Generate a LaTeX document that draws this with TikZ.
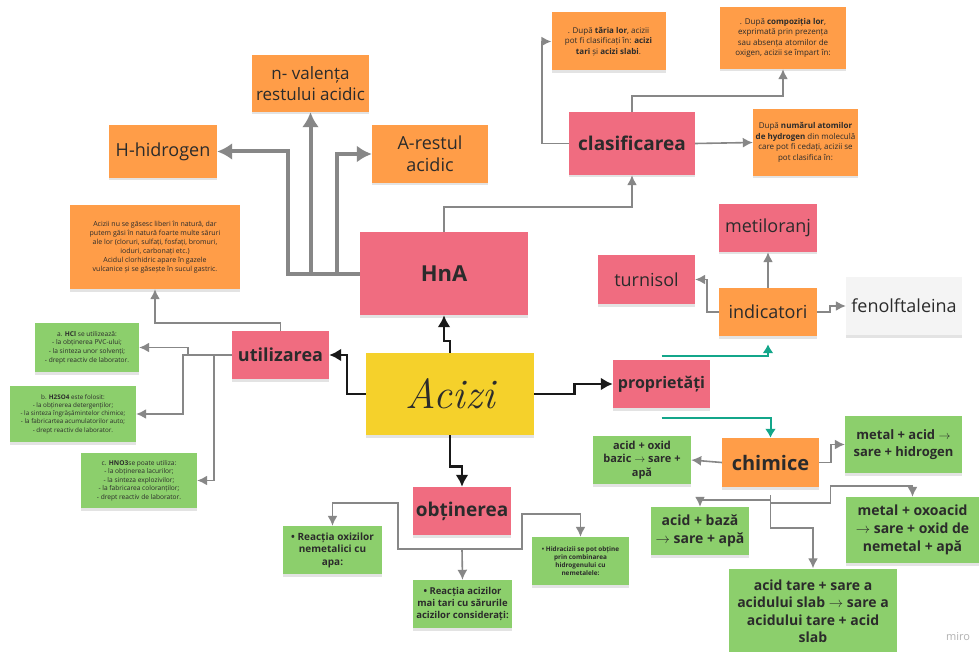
\documentclass[tikz,border=0pt]{standalone}
\usepackage{fontspec}
\setmainfont{Open Sans}
\newfontfamily\handfont{Latin Modern Roman}
\usepackage{tikz}
\usetikzlibrary{arrows.meta,shadows}
\definecolor{notepink}{HTML}{F06C80}
\definecolor{noteorange}{HTML}{FF9D48}
\definecolor{noteyellow}{HTML}{F5D12B}
\definecolor{notegreen}{HTML}{8CCF6C}
\definecolor{notewhite}{HTML}{F4F4F4}
\definecolor{inkgray}{HTML}{878787}
\definecolor{inkteal}{HTML}{13A68A}
\definecolor{inktext}{HTML}{2B2B2B}
\newcommand{\tto}{$\rightarrow$}

\begin{document}
\begin{tikzpicture}[x=1pt,y=-1pt]

\tikzset{card/.style = {inner sep=2pt, align=center, text=inktext,
    drop shadow={opacity=0.22, shadow xshift=0pt, shadow yshift=-2.5pt}}}
\tikzset{pinkcard/.style = {card, fill=notepink}}
\tikzset{orangecard/.style = {card, fill=noteorange}}
\tikzset{greencard/.style = {card, fill=notegreen}}
\tikzset{link/.style = {->, > = {Latex[length=10pt,width=10pt]}, inkgray, line width=1.6pt}}

\fill[white] (0,0) rectangle (979,652);
\useasboundingbox (0,0) rectangle (979,652);

% centre
\node[card, fill=noteyellow, minimum width=168, minimum height=82,
  font=\handfont\itshape\fontsize{42}{46}\selectfont] (acizi) at (450,394) {Acizi};

% HnA
\node[pinkcard, minimum width=168, minimum height=83,
  font=\bfseries\fontsize{22}{26}\selectfont] (hna) at (444,273.5) {HnA};
\node[orangecard, minimum width=117, minimum height=57,
  font=\fontsize{17}{21}\selectfont] (valenta) at (310.5,83.5) {n- valența\\restului acidic};
\node[orangecard, minimum width=108, minimum height=53,
  font=\fontsize{18}{22}\selectfont] (hidrogen) at (163,151.5) {H-hidrogen};
\node[orangecard, minimum width=116, minimum height=58,
  font=\fontsize{18}{22}\selectfont] (restul) at (430,154) {A-restul\\acidic};
\node[orangecard, minimum width=170, minimum height=84,
  font=\fontsize{7}{9}\selectfont] (natura) at (155,247)
  {Acizii nu se găsesc liberi în natură, dar\\
   putem găsi în natură foarte multe săruri\\
   ale lor (cloruri, sulfați, fosfați, bromuri,\\
   ioduri, carbonați etc.)\\
   Acidul clorhidric apare în gazele\\
   vulcanice și se găsește în sucul gastric.};

% clasificarea
\node[pinkcard, minimum width=126, minimum height=63,
  font=\bfseries\fontsize{19}{23}\selectfont] (clasif) at (632,143.5) {clasificarea};
\node[orangecard, minimum width=114, minimum height=58,
  font=\fontsize{8}{10.5}\selectfont] (taria) at (608.5,41.5)
  {. După \textbf{tăria lor}, acizii\\
   pot fi clasificați în: \textbf{acizi}\\
   \textbf{tari} și \textbf{acizi slabi}.};
\node[orangecard, minimum width=126, minimum height=62,
  font=\fontsize{8}{10.5}\selectfont] (compoz) at (783,38)
  {. După \textbf{compoziția lor},\\
   exprimată prin prezența\\
   sau absența atomilor de\\
   oxigen, acizii se împart în:};
\node[orangecard, minimum width=105, minimum height=67,
  font=\fontsize{8}{10.5}\selectfont] (numar) at (805.5,142.5)
  {După \textbf{numărul atomilor}\\
   \textbf{de hydrogen} din moleculă\\
   care pot fi cedați, acizii se\\
   pot clasifica în:};

% indicatori
\node[pinkcard, minimum width=97, minimum height=48,
  font=\bfseries\fontsize{16}{20}\selectfont] (propr) at (661.5,384) {proprietăți};
\node[orangecard, minimum width=98, minimum height=48,
  font=\fontsize{18}{22}\selectfont] (indic) at (768,312) {indicatori};
\node[pinkcard, minimum width=98, minimum height=48,
  font=\fontsize{18}{22}\selectfont] (metil) at (768,228) {metiloranj};
\node[pinkcard, minimum width=97, minimum height=49,
  font=\fontsize{18}{22}\selectfont] (turnisol) at (646.5,279.5) {turnisol};
\node[card, fill=notewhite, minimum width=116, minimum height=58,
  font=\fontsize{18}{22}\selectfont] (fenol) at (904,306) {fenolftaleina};

% chimice
\node[orangecard, minimum width=97, minimum height=49,
  font=\bfseries\fontsize{20}{24}\selectfont] (chimice) at (770.5,462.5) {chimice};
\node[greencard, minimum width=98, minimum height=48,
  font=\bfseries\fontsize{11}{13.5}\selectfont] (oxid) at (642,460)
  {acid + oxid\\ bazic \tto{} sare +\\ apă};
\node[greencard, minimum width=117, minimum height=57,
  font=\bfseries\fontsize{13}{17}\selectfont] (metacid) at (903.5,444.5)
  {metal + acid \tto\\ sare + hidrogen};
\node[greencard, minimum width=98, minimum height=48,
  font=\bfseries\fontsize{14}{18}\selectfont] (baza) at (700,531)
  {acid + bază\\ \tto{} sare + apă};
\node[greencard, minimum width=133, minimum height=66,
  font=\bfseries\fontsize{14}{18}\selectfont] (oxoacid) at (912.5,530)
  {metal + oxoacid\\ \tto{} sare + oxid de\\ nemetal + apă};
\node[greencard, minimum width=168, minimum height=85,
  font=\bfseries\fontsize{14}{17.5}\selectfont] (tare) at (813,611)
  {acid tare + sare a\\ acidului slab \tto{} sare a\\ acidului tare + acid\\ slab};

% utilizarea
\node[pinkcard, minimum width=97, minimum height=48,
  font=\bfseries\fontsize{18}{22}\selectfont] (utiliz) at (280.5,355) {utilizarea};
\node[greencard, minimum width=104, minimum height=49,
  font=\fontsize{6.6}{8.6}\selectfont] (hcl) at (87,347.5)
  {a. \textbf{HCl} se utilizează:\\
   - la obținerea PVC-ului;\\
   - la sinteza unor solvenți;\\
   - drept reactiv de laborator.};
\node[greencard, minimum width=126, minimum height=56,
  font=\fontsize{6.3}{8.3}\selectfont] (hso) at (73,414)
  {b. \textbf{H2SO4} este folosit:\\
   - la obținerea detergenților;\\
   - la sinteza îngrășămintelor chimice;\\
   - la fabricartea acumulatorilor auto;\\
   - drept reactiv de laborator.};
\node[greencard, minimum width=116, minimum height=55,
  font=\fontsize{6.6}{8.6}\selectfont] (hno) at (139,480.5)
  {c. \textbf{HNO3}se poate utiliza:\\
   - la obținerea lacurilor;\\
   - la sinteza explozivilor;\\
   - la fabricarea coloranților;\\
   - drept reactiv de laborator.};

% obtinerea
\node[pinkcard, minimum width=98, minimum height=48,
  font=\bfseries\fontsize{19}{23}\selectfont] (obtin) at (462,511) {obținerea};
\node[greencard, minimum width=99, minimum height=48,
  font=\bfseries\fontsize{10}{12.5}\selectfont] (oxizi) at (332.5,550)
  {• Reacția oxizilor\\ nemetalici cu\\ apa:};
\node[greencard, minimum width=99, minimum height=48,
  font=\bfseries\fontsize{9.5}{12}\selectfont] (tari) at (462.5,604)
  {• Reacția acizilor\\ mai tari cu sărurile\\ acizilor considerați:};
\node[greencard, minimum width=97, minimum height=48,
  font=\bfseries\fontsize{6.4}{8.2}\selectfont] (hidrac) at (580.5,561)
  {• Hidracizii se pot obține\\ prin combinarea\\ hidrogenului cu\\ nemetalele:};

\node[text=gray!60, font=\fontsize{11}{13}\selectfont] (miro) at (958,637) {miro};

%edges
\tikzset{edge/.style = {->, > = {Latex[length=12pt,width=13pt]}, black!90, line width=2.6pt}}
\draw[edge] (acizi.north) -- ++(0,-12) -| (hna.south);
\draw[edge] (acizi.west) -- ++(-19,0) |- (utiliz.east);
\draw[edge] (acizi.east) -- ++(40,0) |- (propr.west);
\draw[edge] (acizi.south) -- ++(0,31) -| (obtin.north);

\tikzset{edge/.style = {->, > = {Latex[length=15pt,width=17pt]}, inkgray, line width=4pt}}
\draw[edge] (hna.west) -- ++(-72,0) |- (hidrogen.east);
\draw[edge] (hna.west) -| (valenta.south);
\draw[edge] (hna.west) -- ++(-23,0) |- (restul.west);

\tikzset{edge/.style = {link}}
\draw[edge] (hna.north) -- ++(0,-25) -| (clasif.south);
\draw[edge] (clasif.west) -- ++(-27,0) |- (taria.west);
\draw[edge] (clasif.north) -- ++(0,-16) -| (compoz.south);
\draw[edge] (clasif.east) -- (numar.west);
\draw[edge] (indic.north) -- (metil.south);
\draw[edge] (indic.west) -- ++(-12,0) |- (turnisol.east);
\draw[edge] (indic.east) -- ++(13,0) |- (fenol.west);
\draw[edge] (utiliz.north) -- ++(0,-8) -| (natura.south);
\draw[edge] (utiliz.west) -- ++(-44,0) |- (hcl.east);
\draw[edge] (utiliz.west) -- ++(-49,0) |- (hso.east);
\draw[edge] (utiliz.west) -- ++(-18,0) |- (hno.east);
\draw[edge] (chimice.west) -- (oxid.east);
\draw[edge] (chimice.east) -- ++(12,0) |- (metacid.west);
\draw[edge] (chimice.south) ++(0,8) -- ++(0,5) -| (baza.north);
\draw[edge] (chimice.south) ++(0,8) -- ++(0,8) -- ++(60,0) -- ++(0,-17) -| (oxoacid.north);
\draw[edge] (chimice.south) ++(0,8) -- ++(0,33) -| (tare.north);
\draw[edge] (obtin.south) ++(0,14) -- ++(-64,0) -- ++(0,-46) -| (oxizi.north);
\draw[edge] (obtin.south) ++(0,14) -- ++(60,0) -- ++(0,-35) -| (hidrac.north);
\draw[edge] (obtin.south) ++(0,14) -- (tari.north);

\tikzset{edge/.style = {->, > = {Latex[length=9pt,width=11pt]}, inkteal, line width=2pt}}
\draw[edge, shorten >=8pt] (propr.north) ++(0,-4) -| (indic.south);
\draw[edge] (propr.south) ++(0,10) -| (chimice.north);

\end{tikzpicture}
\end{document}
